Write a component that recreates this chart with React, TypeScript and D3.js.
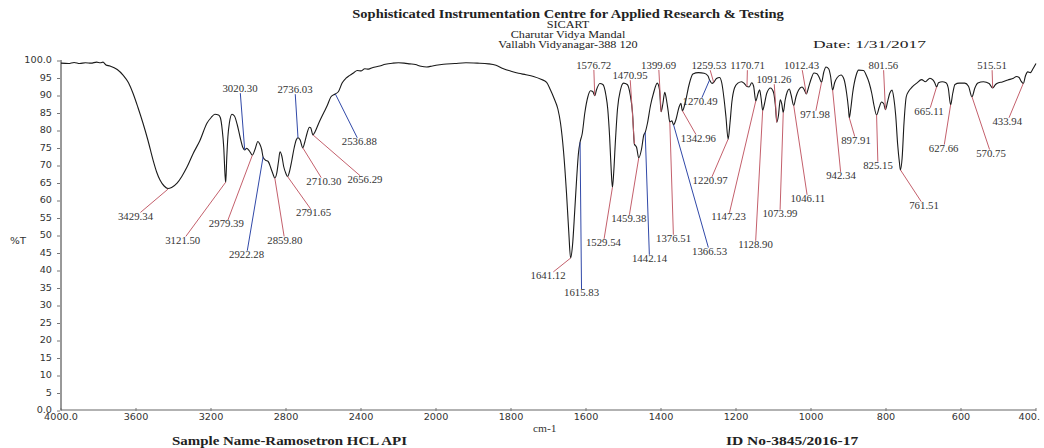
import React from 'react';
import * as d3 from 'd3';

const wavenumbers = [
  4000, 3960, 3930, 3900, 3870, 3840, 3810, 3790, 3776, 3760, 3739, 3700, 3669, 3640, 3616, 3590, 3563, 3536, 3509, 3490, 3472, 3450, 3429.34, 3410, 3381, 3355, 3328, 3295, 3259, 3221, 3200, 3179, 3160, 3150, 3140, 3132, 3125, 3121.5, 3116, 3110, 3102, 3088, 3075, 3060, 3045, 3030, 3020.3, 3010, 2995, 2979.39, 2965, 2950, 2940, 2930, 2922.28, 2910, 2895, 2880, 2870, 2859.8, 2850, 2840, 2832, 2822, 2812, 2800, 2791.65, 2782, 2770, 2758, 2745, 2736.03, 2725, 2710.3, 2700, 2688, 2675, 2668, 2656.29, 2645, 2625, 2600, 2580, 2560, 2536.88, 2520, 2500, 2480, 2460, 2440, 2420, 2400, 2380, 2360, 2340, 2300, 2270, 2230, 2200, 2170, 2140, 2110, 2080, 2050, 2020,
  2000, 1980, 1950, 1920, 1890, 1860, 1840, 1820, 1800, 1780, 1760, 1740, 1720, 1705, 1695, 1685, 1675, 1668, 1660, 1652, 1646, 1641.12, 1636, 1630, 1625, 1620, 1615.83, 1610, 1603, 1595, 1588, 1582, 1576.72, 1572, 1563, 1555, 1547, 1542, 1537, 1533, 1529.54, 1526, 1522, 1516, 1508, 1500, 1490, 1482, 1476, 1470.95, 1465, 1459.38, 1452, 1446, 1442.14, 1436, 1428, 1420, 1410, 1404, 1399.69, 1395, 1390, 1386, 1381, 1376.51, 1371, 1366.53, 1360, 1352, 1347, 1342.96, 1335, 1325, 1315, 1300, 1285, 1275, 1270.49, 1264, 1259.53, 1252, 1244, 1238, 1232, 1227, 1220.97, 1216, 1211, 1204, 1195, 1185, 1177, 1170.71, 1165, 1158, 1153, 1147.23, 1141, 1137, 1133, 1128.9, 1124, 1118, 1108, 1100, 1095, 1091.26, 1087, 1082, 1078, 1073.99, 1069, 1063, 1058, 1053, 1046.11, 1040, 1033, 1024, 1018, 1012.43, 1007, 1000, 992, 984, 978, 971.98, 966, 960, 953, 948, 942.34, 937, 930, 920, 912, 905, 900, 897.91, 894, 889, 880, 873, 860, 852, 845, 838, 832, 825.15, 818, 812, 806, 801.56, 796, 790, 784, 779, 774, 769, 764, 761.51, 757, 752, 746, 740, 730, 718, 705, 695, 683, 675, 670, 665.11, 660, 650, 640, 634, 627.66, 622, 616, 605, 590, 580, 570.75, 563, 555, 540, 525, 515.51, 508, 500, 490, 475, 460, 452, 445, 440, 433.94, 428, 422, 415, 408, 400,
];

const transmittance = [
  99.1, 99.0, 99.3, 99.0, 99.2, 99.1, 99.4, 99.2, 99.4, 98.6, 98.3, 97.3, 95.7, 93.5, 90.5, 86.5, 82, 77, 71.4, 68, 65.7, 64, 63.3, 63.6, 64.8, 66.8, 69.4, 73.3, 77, 82, 83.5, 84.5, 84.3, 83.5, 80, 75, 67, 65.0, 72, 78, 82, 84.5, 84, 81.5, 78, 75, 74.3, 74.8, 74, 72.8, 74.5, 76.7, 76, 74.5, 72.3, 71.4, 71, 69, 67.5, 66.3, 67.5, 71, 73.8, 72.5, 69.5, 67.5, 66.7, 68, 71, 74.5, 77.2, 77.8, 77.2, 74.9, 76.5, 79, 80.8, 80.6, 78.6, 79.5, 82, 84.8, 87, 89.5, 90.3, 91, 93.5, 94.8, 95.6, 96.3, 97, 96.9, 97.5, 97.4, 97.8, 98.3, 98.8, 99.1, 99.2, 99.1, 98.9, 98.7, 98.2, 98.0, 98.3,
  98.5, 98.8, 99.0, 99.2, 99.1, 98.9, 98.5, 97.5, 96.8, 96.2, 95.8, 95.3, 94.5, 93.6, 91.5, 89, 86, 82, 74, 62, 51, 43.4, 47, 57, 66, 73.5, 76.5, 79, 85, 89.5, 91.2, 91, 89.8, 91.5, 93.3, 93, 90, 86, 78, 69, 63.6, 68, 76, 86, 91.5, 93.4, 93, 90, 85, 76, 75, 72, 74.5, 78.5, 79.3, 82, 87, 90.5, 93.4, 91.5, 85.2, 87.5, 90.8, 89, 85.5, 82.3, 82.6, 81.5, 83, 86.5, 87.6, 85.5, 88, 93, 96, 96.4, 96.2, 95.5, 94.3, 93.3, 93.6, 94.7, 95, 93.5, 89, 84, 77.4, 82, 88, 92, 93.4, 93.8, 93.2, 92.4, 92.3, 93.5, 92.5, 88.3, 90.5, 91.5, 89, 85.6, 87.5, 90.5, 92, 90.8, 87, 82.2, 84, 88.6, 87.5, 85, 88.5, 91, 91.7, 90, 87, 89.5, 91.4, 92.3, 91.5, 90.3, 92, 94.5, 96.3, 96.1, 95, 93.6, 96.5, 98, 97.5, 95.5, 91.4, 93.5, 95, 95.7, 94.5, 90.5, 86, 83.5, 86, 90.5, 95.5, 97.1, 97, 95.5, 93.5, 90.5, 87, 84.3, 86.5, 88, 87.5, 85.8, 88, 90.5, 91.4, 89, 84, 76, 70.5, 68.6, 72, 82, 89.5, 91, 92.3, 93.4, 94.4, 93.8, 94.8, 94.3, 93.5, 92.3, 93.5, 93.8, 93.5, 92, 87.2, 90.5, 93, 93.4, 93.4, 92.5, 89.5, 92, 93.4, 93.8, 93.3, 92, 93, 93.5, 93.7, 94.3, 94.8, 95.3, 95, 94, 93.3, 95.5, 96.6, 96.4, 97.5, 99,
];

const peakWavenumbers = [3429.34, 3121.5, 3020.3, 2979.39, 2922.28, 2859.8, 2791.65, 2736.03, 2710.3, 2656.29, 2536.88, 1641.12, 1615.83, 1576.72, 1529.54, 1470.95, 1459.38, 1442.14, 1399.69, 1376.51, 1366.53, 1342.96, 1270.49, 1259.53, 1220.97, 1170.71, 1147.23, 1128.9, 1091.26, 1073.99, 1046.11, 1012.43, 971.98, 942.34, 897.91, 825.15, 801.56, 761.51, 665.11, 627.66, 570.75, 515.51, 433.94];
const peakTransmittance = [63.1, 65.1, 74.3, 72.8, 72.3, 66.3, 66.7, 77.8, 74.9, 78.6, 90.3, 43.4, 76.5, 89.8, 63.6, 76, 72, 79.3, 85.2, 82.3, 81.5, 85.5, 94.3, 93.6, 77.4, 92.4, 88.3, 85.6, 82.2, 85, 87, 90.3, 93.6, 91.4, 83.5, 84.3, 85.8, 68.6, 92.3, 87.2, 89.5, 92, 93.3];
const peakLabels = ['3429.34', '3121.50', '3020.30', '2979.39', '2922.28', '2859.80', '2791.65', '2736.03', '2710.30', '2656.29', '2536.88', '1641.12', '1615.83', '1576.72', '1529.54', '1470.95', '1459.38', '1442.14', '1399.69', '1376.51', '1366.53', '1342.96', '1270.49', '1259.53', '1220.97', '1170.71', '1147.23', '1128.90', '1091.26', '1073.99', '1046.11', '1012.43', '971.98', '942.34', '897.91', '825.15', '801.56', '761.51', '665.11', '627.66', '570.75', '515.51', '433.94'];

// layout: label centre offset from the peak point (px) and leader colour
const labelOffsets: [number, number][] = [
  [-32.5, 27.5], [-43, 58.5], [-4.7, -61], [-26, 69], [-16.5, 98], [10, 62.7], [26, 36.5], [-3, -47.7], [21, 34], [52, 45], [24, 48],
  [-22.5, 18], [1.5, 151], [-1, -30], [-9, 55.6], [-4.4, -68], [-10, 61], [4.3, 126.5], [-2.5, -46], [3.7, 117], [36, 127], [16, 28],
  [-9.5, 22], [-4.7, -16.4], [-18, 42], [0.5, -20.6], [-27.3, 116], [-7.2, 134.6], [-2.8, -42.3], [-3.3, 101.5], [14, 93.5], [-4.8, -28],
  [-6.5, 32.6], [8.4, 86], [6.7, 23], [1.4, 51], [-2, -43.7], [23.6, 36], [-7.6, 25], [-7, 44], [19, 57], [-0.7, -22], [-16, 38.5],
];
const leaderBlue = ['3020.30', '2922.28', '2736.03', '2536.88', '1615.83', '1442.14', '1366.53', '1270.49'];

const xTickValues = [4000, 3600, 3200, 2800, 2400, 2000, 1800, 1600, 1400, 1200, 1000, 800, 600, 400];
const xTickLabels = ['4000.0', '3600', '3200', '2800', '2400', '2000', '1800', '1600', '1400', '1200', '1000', '800', '600', '400.'];
const yTickValues = [100, 95, 90, 85, 80, 75, 70, 65, 60, 55, 50, 45, 40, 35, 30, 25, 20, 15, 10, 5, 0];
const yTickLabels = ['100.0', '95', '90', '85', '80', '75', '70', '65', '60', '55', '50', '45', '40', '35', '30', '25', '20', '15', '10', '5', '0.0'];

const headerLines = ['Sophisticated Instrumentation Centre for Applied Research & Testing', 'SICART', 'Charutar Vidya Mandal', 'Vallabh Vidyanagar-388 120'];

const W = 1044;
const H = 448;
const SX = 1.15;
const SERIF = '"Liberation Serif", "Times New Roman", serif';
const SANS = '"DejaVu Sans", Verdana, sans-serif';
const RED = '#c4606c';
const BLUE = '#3048a8';

function SText(props: { x: number; y: number; size: number; anchor?: string; weight?: string; family?: string; fill?: string; children: React.ReactNode }) {
  const { x, y, size, anchor = 'start', weight = 'normal', family = SERIF, fill = '#222', children } = props;
  return (
    <text transform={`translate(${x},${y}) scale(${SX},1)`} fontSize={size} fontFamily={family} fontWeight={weight} textAnchor={anchor} fill={fill}>
      {children}
    </text>
  );
}

export default function App() {
  const x = d3.scaleLinear().domain([4000, 2000, 400]).range([61, 436, 1036]);
  const y = d3.scaleLinear().domain([0, 100]).range([410, 60]);

  const pts: [number, number][] = wavenumbers.map((w, i) => [x(w), y(transmittance[i])]);
  const line = d3.line<[number, number]>().x((d) => d[0]).y((d) => d[1]).curve(d3.curveMonotoneX);
  const path = line(pts) || '';

  const labelFont = 9.4;
  const headerY = [18, 28, 38, 48];

  return (
    <svg width={W} height={H} style={{ position: 'absolute', left: 0, top: 0, background: '#fff' }}>
      <rect x={0} y={0} width={W} height={H} fill="#fff" />
      {/* header */}
      <text transform={`translate(568,0) scale(${SX},1)`} fontFamily={SERIF} fill="#222" textAnchor="middle">
        {headerLines.map((s, i) => (
          <tspan key={i} x={0} y={headerY[i]} fontSize={i === 0 ? 12.6 : 10.6} fontWeight={i === 0 ? 'bold' : 'normal'}>{s}</tspan>
        ))}
      </text>
      <text x={813} y={48} fontSize={11.4} fontFamily={SERIF} fill="#222" textLength={113} lengthAdjust="spacingAndGlyphs">Date: 1/31/2017</text>

      {/* axes */}
      <line x1={61} x2={1036} y1={y(0)} y2={y(0)} stroke="#999" strokeWidth={1.4} />
      <line x1={61} x2={61} y1={y(100)} y2={y(0)} stroke="#333" strokeWidth={1} />
      {yTickValues.map((v, i) => (
        <g key={'y' + i}>
          <line x1={57} x2={60} y1={y(v) + 1} y2={y(v) + 1} stroke="#777" strokeWidth={1} />
          <SText x={52} y={y(v) + 3} size={8.4} anchor="end" family={SANS} fill="#333">{yTickLabels[i]}</SText>
        </g>
      ))}
      {xTickValues.map((v, i) => {
        const last = i === xTickValues.length - 1;
        return (
          <g key={'x' + i}>
            <line x1={x(v)} x2={x(v)} y1={y(0) - 2} y2={y(0) + 1} stroke="#777" strokeWidth={1} />
            <SText x={last ? x(v) + 4 : x(v)} y={419.5} size={8.4} anchor={last ? 'end' : 'middle'} family={SANS} fill="#333">{xTickLabels[i]}</SText>
          </g>
        );
      })}
      <SText x={10} y={244} size={9} family={SANS} fill="#333">%T</SText>
      <SText x={533} y={432} size={10} fill="#333">cm-1</SText>

      {/* spectrum */}
      <path d={path} fill="none" stroke="#1a1a1a" strokeWidth={1.1} />

      {/* peak annotations */}
      {peakWavenumbers.map((w, i) => {
        const px = x(w);
        const py = y(peakTransmittance[i]);
        const [dx, dy] = labelOffsets[i];
        const cx = px + dx;
        const cy = py + dy;
        const label = peakLabels[i];
        const hw = ((label.length - 1) * 0.5 + 0.25) * labelFont * SX / 2 + 0.5;
        const hh = 4.2;
        const ax = Math.abs(dx) || 1e-6;
        const ay = Math.abs(dy) || 1e-6;
        const t = Math.min(hw / ax, hh / ay);
        const ex = cx - dx * t;
        const ey = cy - dy * t;
        const color = leaderBlue.includes(label) ? BLUE : RED;
        return (
          <g key={'p' + i}>
            <line x1={px} y1={py} x2={ex} y2={ey} stroke={color} strokeWidth={1} />
            <SText x={cx} y={cy + 3.2} size={labelFont} anchor="middle" fill="#333">{label}</SText>
          </g>
        );
      })}

      {/* footer */}
      <SText x={172} y={445} size={13} weight="bold">Sample Name-Ramosetron HCL API</SText>
      <SText x={726} y={445} size={13.5} weight="bold">ID No-3845/2016-17</SText>
    </svg>
  );
}
